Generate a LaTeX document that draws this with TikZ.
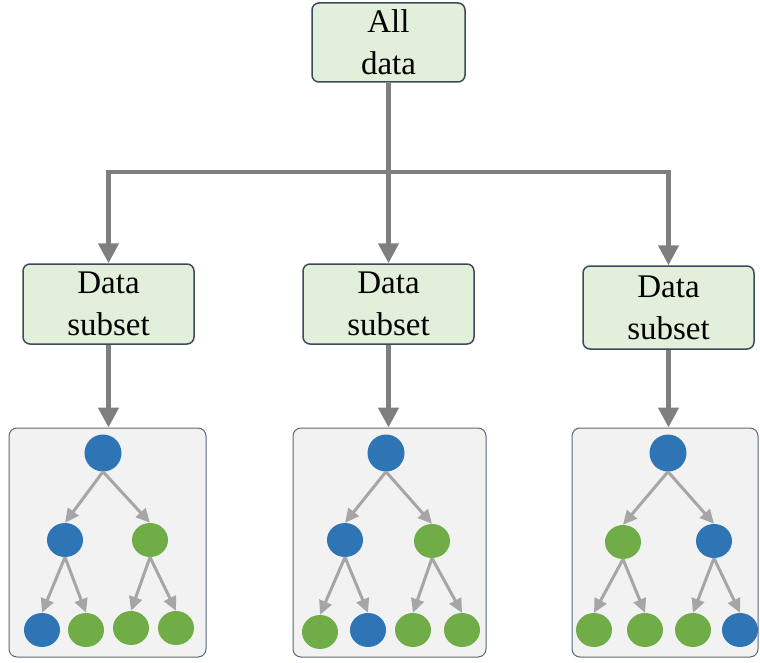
\documentclass[tikz,border=0pt]{standalone}
\usepackage{fontspec}
\setmainfont{Liberation Serif}
\usetikzlibrary{arrows.meta,shapes.geometric}
\definecolor{boxfill}{HTML}{E2EFDA}
\definecolor{boxline}{HTML}{3B4A5C}
\definecolor{panelfill}{HTML}{F2F2F2}
\definecolor{panelline}{HTML}{5A6878}
\definecolor{mainarrow}{HTML}{7F7F7F}
\definecolor{treearrow}{HTML}{A6A6A6}
\definecolor{cblue}{HTML}{2E75B6}
\definecolor{cgreen}{HTML}{70AD47}
\begin{document}
\begin{tikzpicture}[x=1pt,y=-1pt,
  databox/.style={draw=boxline, fill=boxfill, line width=1.5pt, rounded corners=7pt,
    minimum width=171pt, minimum height=80pt, align=center, inner sep=0pt,
    font=\fontsize{33}{42}\selectfont},
  panel/.style={draw=panelline, fill=panelfill, line width=1pt, rounded corners=8pt},
  mainline/.style={draw=mainarrow, line width=4.5pt},
  mtip/.style={-{Triangle[width=20pt,length=20pt]}},
  treeline/.style={draw=treearrow, line width=3pt, -{Triangle[width=13pt,length=14pt]}},
  bnode/.style={ellipse, fill=cblue, minimum width=36pt, minimum height=34pt, inner sep=0pt},
  gnode/.style={ellipse, fill=cgreen, minimum width=36pt, minimum height=34pt, inner sep=0pt},
  rnode/.style={ellipse, fill=cblue, minimum width=37pt, minimum height=37pt, inner sep=0pt}
]
\useasboundingbox (0,0) rectangle (760,663);

% top boxes
\node[databox, minimum width=153pt, minimum height=79pt] (all) at (388.5,42.5) {All\\data};
\node[databox] (s1) at (108.5,304) {Data\\subset};
\node[databox] (s2) at (388.5,304) {Data\\subset};
\node[databox, minimum height=83pt] (s3) at (668.5,307.5) {Data\\subset};

% panels
\node[panel, minimum width=197pt, minimum height=229pt] (p1) at (107.5,542.5) {};
\node[panel, minimum width=193pt, minimum height=229pt] (p2) at (389.5,542.5) {};
\node[panel, minimum width=186pt, minimum height=229pt] (p3) at (665,542.5) {};

% main connectors
\coordinate (j) at (388,172);
\draw[mainline, mtip] (all.south) -- (all.south |- s2.north);
\draw[mainline, {Triangle[width=20pt,length=20pt]}-{Triangle[width=20pt,length=20pt]}]
  (s1.north) -- (s1.north |- j) -- (s3.north |- j) -- (s3.north);
\draw[mainline, mtip] (s1.south) -- (s1.south |- p1.north);
\draw[mainline, mtip] (s2.south) -- (s2.south |- p2.north);
\draw[mainline, mtip] (s3.south) -- (s3.south |- p3.north);

% tree 1
\node[rnode] (a0) at (103,453) {};
\node[bnode] (a1) at (65,540) {};
\node[gnode] (a2) at (150,540) {};
\node[bnode] (a3) at (42,630) {};
\node[gnode] (a4) at (86,630) {};
\node[gnode] (a5) at (131,628) {};
\node[gnode] (a6) at (176,628) {};
% tree 2
\node[rnode] (b0) at (386,453) {};
\node[bnode] (b1) at (345,540) {};
\node[gnode] (b2) at (432,541) {};
\node[gnode] (b3) at (320,632) {};
\node[bnode] (b4) at (368,630) {};
\node[gnode] (b5) at (413,630) {};
\node[gnode] (b6) at (462,630) {};
% tree 3
\node[rnode] (c0) at (668,453) {};
\node[gnode] (c1) at (623,542) {};
\node[bnode] (c2) at (714,541) {};
\node[gnode] (c3) at (594,630) {};
\node[gnode] (c4) at (645,630) {};
\node[gnode] (c5) at (693,630) {};
\node[bnode] (c6) at (740,630) {};

\foreach \t in {a,b,c}{
  \draw[treeline] (\t0.south) -- (\t1.north);
  \draw[treeline] (\t0.south) -- (\t2.north);
  \draw[treeline] (\t1.south) -- (\t3.north);
  \draw[treeline] (\t1.south) -- (\t4.north);
  \draw[treeline] (\t2.south) -- (\t5.north);
  \draw[treeline] (\t2.south) -- (\t6.north);
}
\end{tikzpicture}
\end{document}
